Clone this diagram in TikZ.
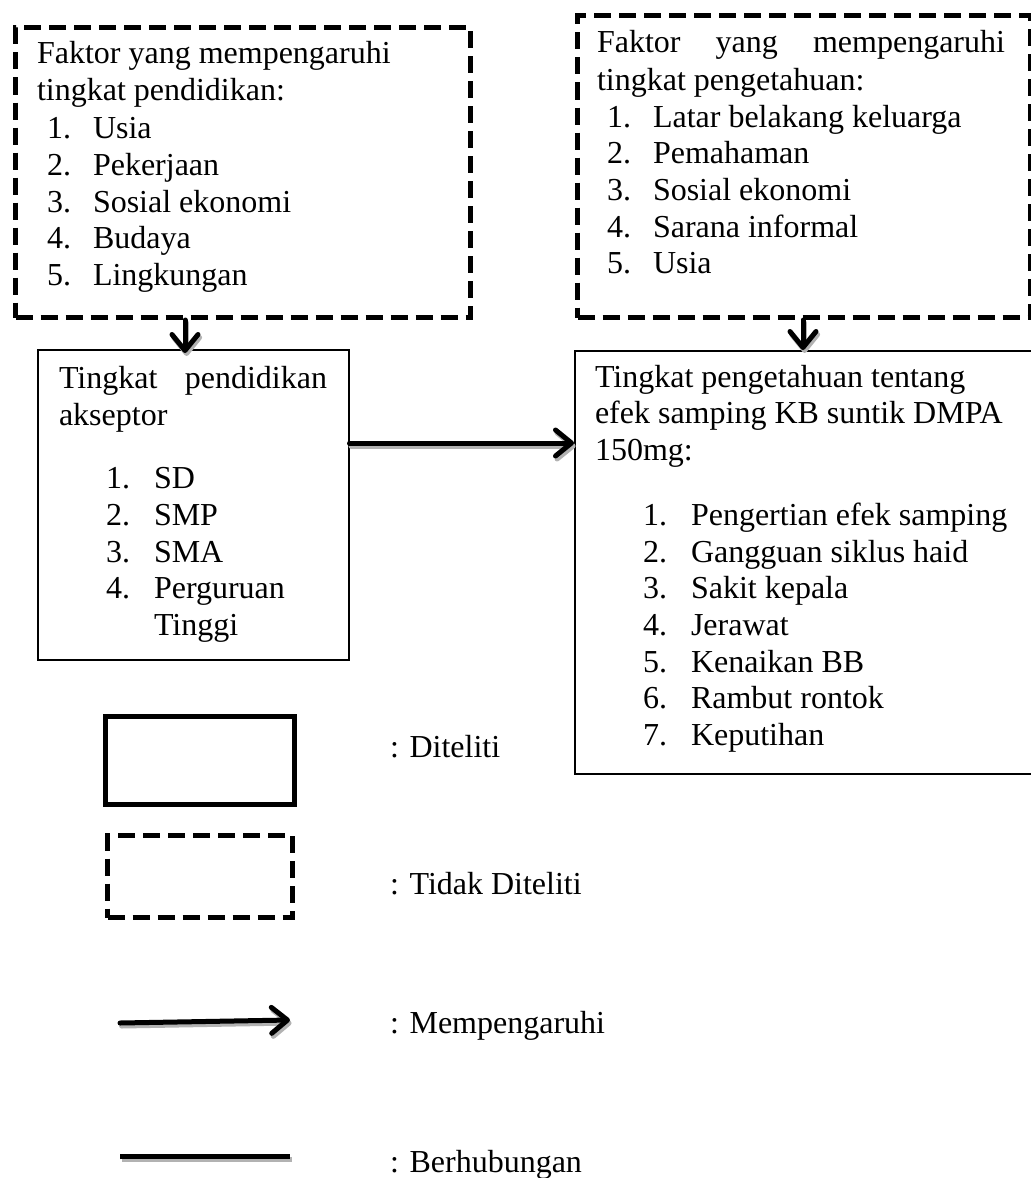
\documentclass[tikz,border=0pt]{standalone}
\usepackage{fontspec}
\setmainfont{Liberation Serif}
\usetikzlibrary{arrows.meta}
\begin{document}
\begin{tikzpicture}[x=0.5pt,y=-0.5pt,
  txt/.style={anchor=base west, inner sep=0pt, outer sep=0pt, font=\fontsize{16}{18.5}\selectfont},
  dbox/.style={draw, line width=2.5pt, dash pattern=on 8.5pt off 4pt, anchor=north west, inner sep=0pt},
  sbox/.style={draw, line width=0.75pt, anchor=north west, inner sep=0pt},
  lbox/.style={draw, line width=2.5pt, anchor=north west, inner sep=0pt},
  conn/.style={line width=2.5pt, line cap=round, -{Straight Barb[length=8pt,width=13pt,line cap=round,line join=round]}},
  plain/.style={line width=2.5pt},
  shadow/.style={draw=gray!60, transform canvas={xshift=0.8pt,yshift=-1.5pt}}]
\useasboundingbox (0,0) rectangle (1031,1178);

% boxes
\node[dbox, minimum width=227.5pt, minimum height=145pt] (f1) at (13,25) {};
\node[dbox, minimum width=226.5pt, minimum height=151pt] (f2) at (575,13) {};
\node[sbox, minimum width=155.5pt, minimum height=155pt] (p1) at (37,349) {};
\node[sbox, minimum width=233pt, minimum height=211.5pt] (p2) at (574,350) {};

% box 1 text
\node[txt] (f1a) at (37,63) {Faktor yang mempengaruhi};
\node[txt] (f1b) at (37,100) {tingkat pendidikan:};
\foreach \t/\y [count=\i] in {Usia/138, Pekerjaan/175, Sosial ekonomi/212, Budaya/248, Lingkungan/285}{
  \node[txt] (f1n\i) at (47,\y) {\i.};
  \node[txt] (f1t\i) at (93,\y) {\t};
}

% box 2 text
\node[txt] (f2a) at (597,53) {\makebox[204pt][s]{Faktor yang mempengaruhi}};
\node[txt] (f2b) at (597,90) {tingkat pengetahuan:};
\foreach \t/\y [count=\i] in {Latar belakang keluarga/127, Pemahaman/163, Sosial ekonomi/200, Sarana informal/237, Usia/273}{
  \node[txt] (f2n\i) at (607,\y) {\i.};
  \node[txt] (f2t\i) at (653,\y) {\t};
}

% box 3 text
\node[txt] (p1a) at (59,388) {\makebox[134pt][s]{Tingkat pendidikan}};
\node[txt] (p1b) at (59,425) {akseptor};
\foreach \t/\y [count=\i] in {SD/488, SMP/525, SMA/562, Perguruan/598}{
  \node[txt] (p1n\i) at (106,\y) {\i.};
  \node[txt] (p1t\i) at (154,\y) {\t};
}
\node[txt] (p1c) at (154,635) {Tinggi};

% box 4 text
\node[txt] (p2a) at (595,387) {Tingkat pengetahuan tentang};
\node[txt] (p2b) at (595,423) {efek samping KB suntik DMPA};
\node[txt] (p2c) at (595,460) {150mg:};
\foreach \t/\y [count=\i] in {Pengertian efek samping/525, Gangguan siklus haid/562, Sakit kepala/598, Jerawat/635, Kenaikan BB/672, Rambut rontok/708, Keputihan/745}{
  \node[txt] (p2n\i) at (643,\y) {\i.};
  \node[txt] (p2t\i) at (691,\y) {\t};
}

% connectors
\coordinate (a1) at (185,0);
\coordinate (a2) at (803,0);
\coordinate (h) at (0,443);
\draw[conn, shadow, shorten >=-2pt] (a1 |- f1.south) -- (a1 |- p1.north);
\draw[conn, shorten >=-2pt] (a1 |- f1.south) -- (a1 |- p1.north);
\draw[conn, shadow] (a2 |- f2.south) -- (a2 |- p2.north);
\draw[conn] (a2 |- f2.south) -- (a2 |- p2.north);
\draw[conn, shadow] (p1.east |- h) -- (p2.west |- h);
\draw[conn] (p1.east |- h) -- (p2.west |- h);

% legend
\node[lbox, minimum width=94.5pt, minimum height=44pt] (l1) at (103,714) {};
\node[dbox, minimum width=92.5pt, minimum height=41pt] (l2) at (105,833) {};
\coordinate (la1) at (120,1023);
\coordinate (la2) at (290,1020);
\coordinate (lb1) at (120,1156);
\coordinate (lb2) at (290,1156);
\draw[conn, shadow] (la1) -- (la2);
\draw[conn] (la1) -- (la2);
\draw[plain, shadow] (lb1) -- (lb2);
\draw[plain] (lb1) -- (lb2);

\node[txt] (t1) at (390,757) {: Diteliti};
\node[txt] (t2) at (390,894) {: Tidak Diteliti};
\node[txt] (t3) at (390,1033) {: Mempengaruhi};
\node[txt] (t4) at (390,1172) {: Berhubungan};
\end{tikzpicture}
\end{document}
